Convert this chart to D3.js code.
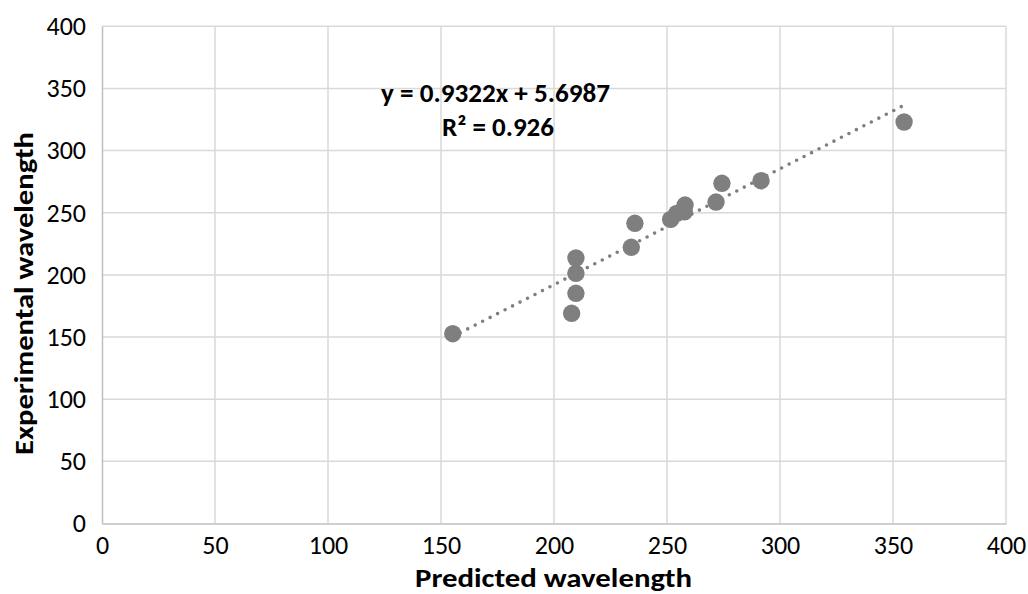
<!DOCTYPE html>
<html>
<head>
<meta charset="utf-8">
<script src="https://cdn.jsdelivr.net/npm/d3@7"></script>
<style>
  html, body { margin: 0; padding: 0; background: #fff; }
  svg text { font-family: Carlito, Lato, "Open Sans", sans-serif; fill: #000; }
</style>
</head>
<body>
<svg id="chart" width="1028" height="594"></svg>
<script>
// Predicted vs. experimental absorption wavelengths
const predicted    = [155.2, 207.8, 209.7, 209.7, 209.7, 234.2, 235.8, 251.6, 254.3, 257.7, 258.0, 271.7, 274.3, 291.6, 354.9];
const experimental = [152.7, 169.1, 185.2, 201.3, 213.6, 222.2, 241.5, 244.7, 249.5, 250.8, 256.2, 258.6, 273.7, 275.8, 323.0];
const tickValues   = [0, 50, 100, 150, 200, 250, 300, 350, 400];
const slope = 0.9322, intercept = 5.6987, rSquared = 0.926;

const svg = d3.select("#chart");
const plotLeft = 102, plotRight = 1006, plotTop = 26.3, plotBottom = 523.5;

const x = d3.scaleLinear().domain([0, 400]).range([plotLeft, plotRight]);
const y = d3.scaleLinear().domain([0, 400]).range([plotBottom, plotTop]);

// gridlines
const grid = svg.append("g");
grid.selectAll("line.v").data(tickValues.slice(1)).join("line").attr("class", "v")
  .attr("x1", d => x(d)).attr("x2", d => x(d))
  .attr("y1", plotTop).attr("y2", plotBottom)
  .attr("stroke", "#d9d9d9").attr("stroke-width", 1.5);
grid.selectAll("line.h").data(tickValues.slice(1)).join("line").attr("class", "h")
  .attr("x1", plotLeft).attr("x2", plotRight)
  .attr("y1", d => y(d)).attr("y2", d => y(d))
  .attr("stroke", "#d9d9d9").attr("stroke-width", 1.5);

// axes
const xAxis = svg.append("g").attr("transform", `translate(0,${plotBottom})`)
  .call(d3.axisBottom(x).tickValues(tickValues).tickSize(0).tickPadding(12));
const yAxis = svg.append("g").attr("transform", `translate(${plotLeft},0)`)
  .call(d3.axisLeft(y).tickValues(tickValues).tickSize(0).tickPadding(16));
[xAxis, yAxis].forEach(g => {
  g.select(".domain").attr("stroke", "#bfbfbf").attr("stroke-width", 1.5);
  g.selectAll("text").attr("font-size", 26).attr("font-family", "Carlito, Lato, sans-serif").attr("fill", "#000");
});

// trend line over the data range
const x0 = d3.min(predicted), x1 = d3.max(predicted);
svg.append("line")
  .attr("x1", x(x0)).attr("y1", y(slope * x0 + intercept))
  .attr("x2", x(x1)).attr("y2", y(slope * x1 + intercept))
  .attr("stroke", "#7f7f7f").attr("stroke-width", 3.6)
  .attr("stroke-linecap", "round").attr("stroke-dasharray", "0 8.4");

// points
svg.append("g").selectAll("circle").data(predicted.map((p, i) => [p, experimental[i]])).join("circle")
  .attr("cx", d => x(d[0])).attr("cy", d => y(d[1])).attr("r", 8.7)
  .attr("fill", "#7f7f7f");

// equation label
const eq = svg.append("g").attr("font-weight", "bold").attr("font-size", 26);
eq.append("text").attr("x", 381).attr("y", 102).attr("textLength", 229).attr("lengthAdjust", "spacingAndGlyphs")
  .text(`y = ${slope}x + ${intercept}`);
eq.append("text").attr("x", 442).attr("y", 136).attr("textLength", 112).attr("lengthAdjust", "spacingAndGlyphs")
  .text(`R² = ${rSquared}`);

// axis titles
svg.append("text").attr("x", 415).attr("y", 587)
  .attr("textLength", 277).attr("lengthAdjust", "spacingAndGlyphs")
  .attr("font-weight", "bold").attr("font-size", 27).text("Predicted wavelength");
svg.append("text").attr("transform", "translate(33,455) rotate(-90)")
  .attr("textLength", 323).attr("lengthAdjust", "spacingAndGlyphs")
  .attr("font-weight", "bold").attr("font-size", 27).text("Experimental wavelength");
</script>
</body>
</html>
